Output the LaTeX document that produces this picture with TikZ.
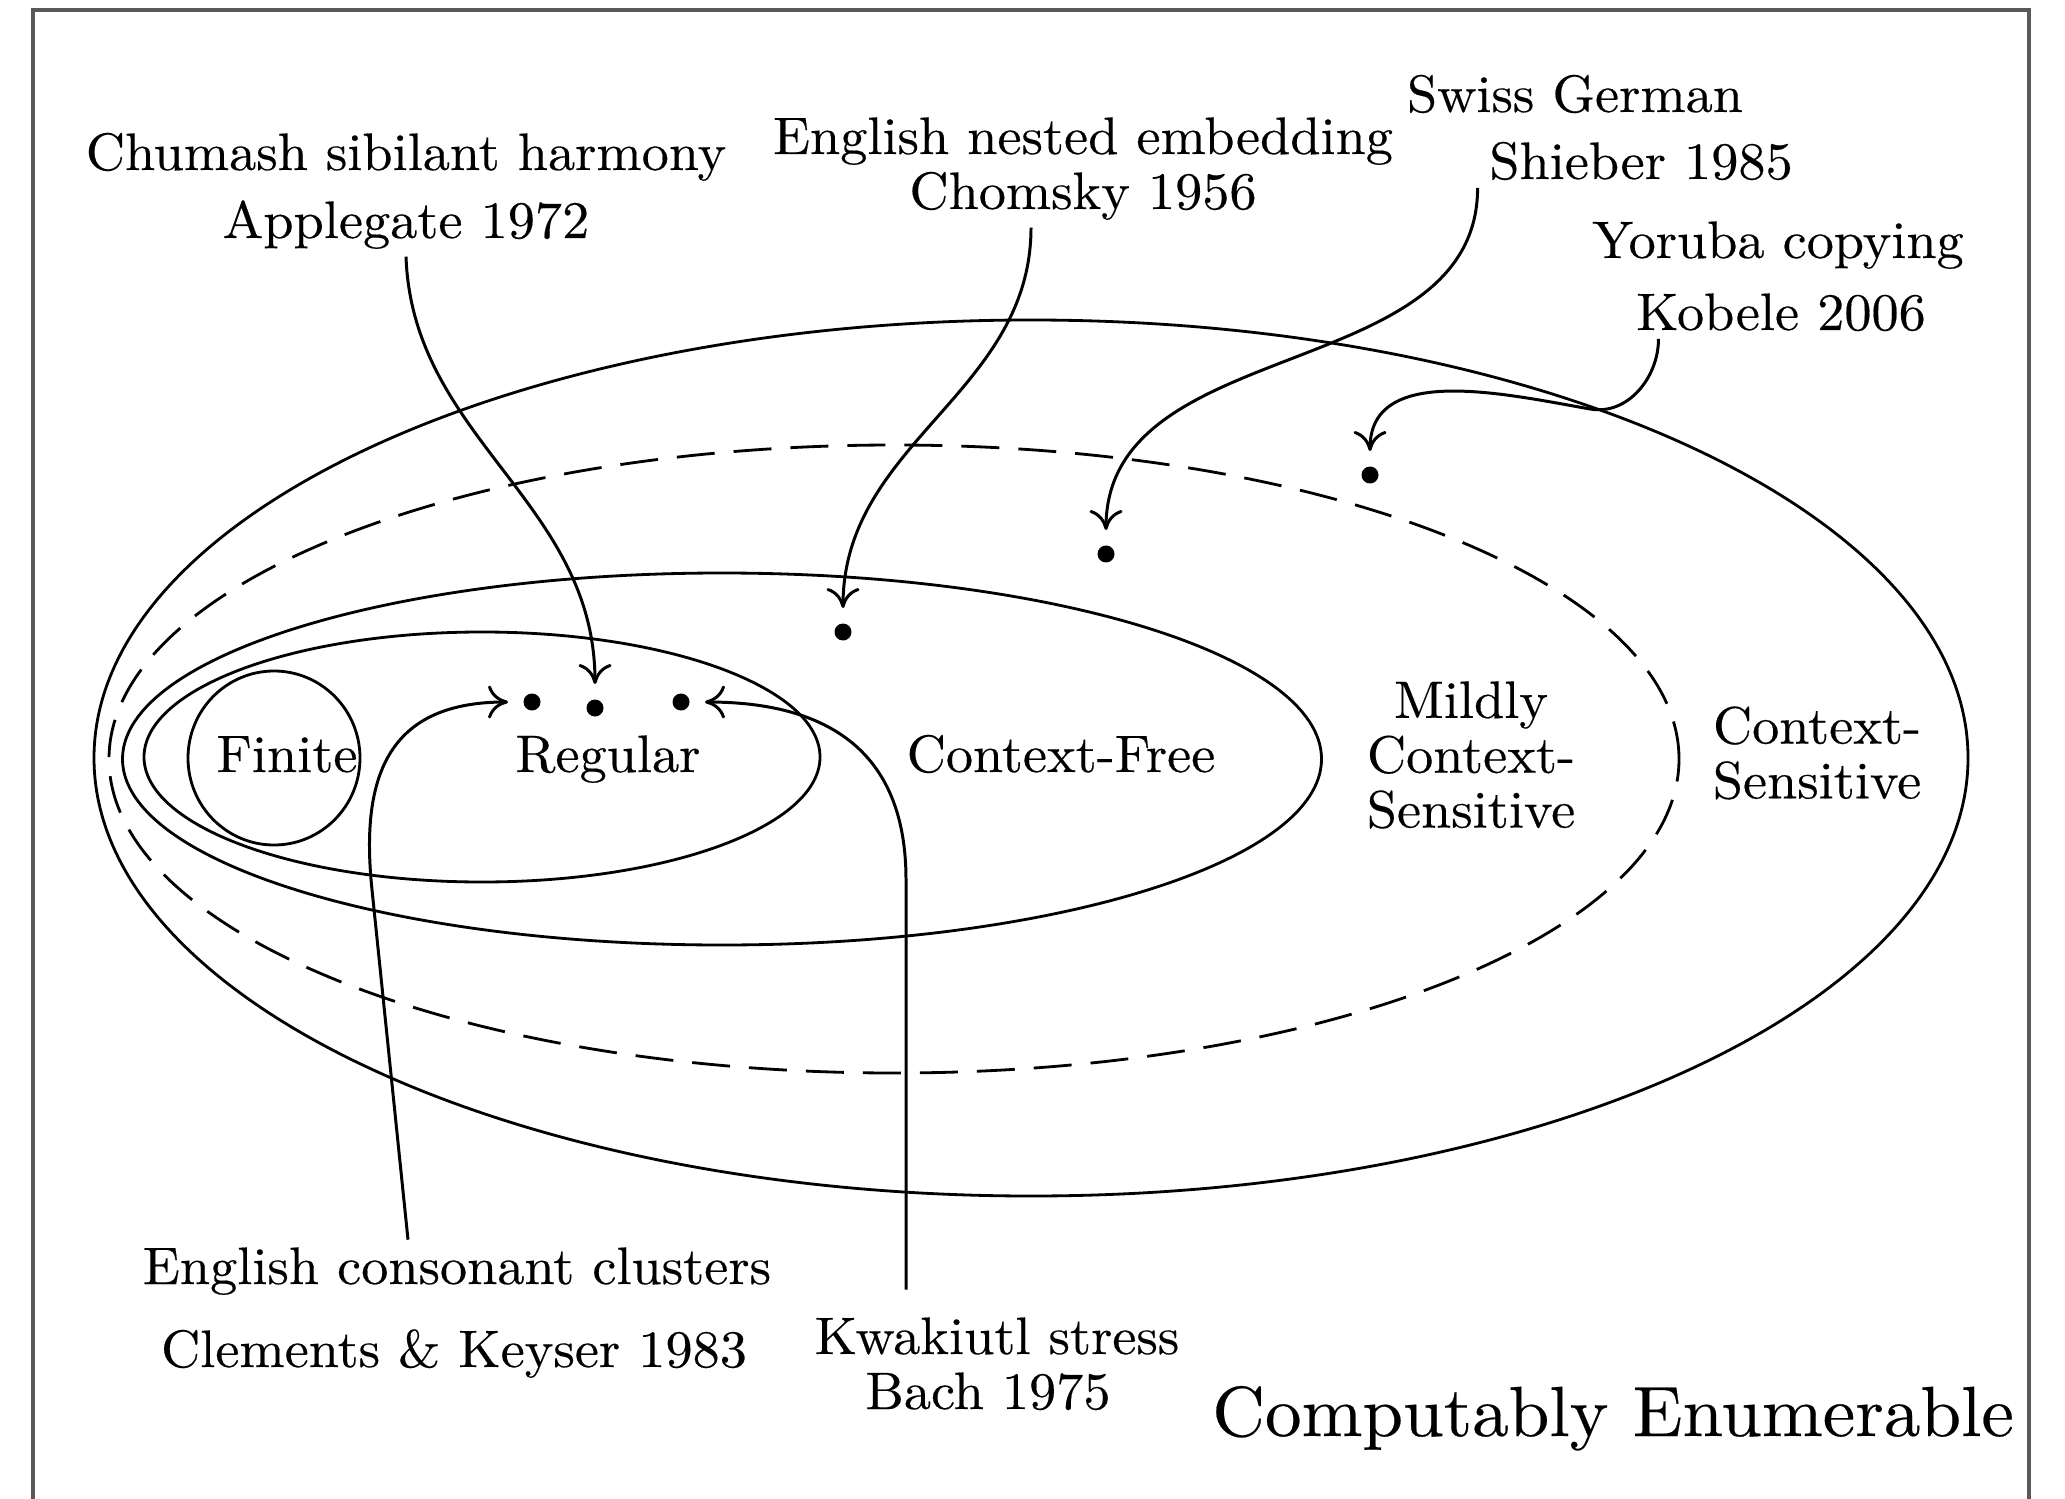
\documentclass[tikz,border=0pt]{standalone}
\usepackage{fontspec}
\setmainfont{lmroman10-regular.otf}[FakeStretch=1.03,FakeBold=0.3]
\usepackage{tikz}
\usetikzlibrary{arrows.meta,shapes.geometric,positioning,calc}

\begin{document}
\begin{tikzpicture}[
    >={Computer Modern Rightarrow[length=2mm,width=3.3mm]},
    font=\fontsize{15}{15.6}\selectfont,
    class/.style={
        draw,
        ellipse,
        line width=0.8pt,
        inner sep=0pt
    },
    dot/.style={
        circle,
        fill,
        inner sep=0pt,
        minimum size=1.7mm,
        outer sep=1.55mm
    },
    lbl/.style={
        anchor=base,
        inner sep=2pt
    },
    frame/.style={
        draw=black!65,
        line width=1.4pt
    },
    arr/.style={->, line width=0.85pt}
]
\useasboundingbox (0,0) rectangle (20.65,-14.99);
\draw[frame] (0.33,-14.99) |- (20.29,-0.10) -- (20.29,-14.99);

% language classes
\node[class, minimum width=18.74cm, minimum height=8.76cm] (ce) at (10.31,-7.58) {};
\node[class, dash pattern=on 3.8mm off 1.9mm, minimum width=15.70cm, minimum height=6.28cm] (mcs) at (8.94,-7.59) {};
\node[class, minimum width=11.99cm, minimum height=3.72cm] (cf) at (7.22,-7.59) {};
\node[class, minimum width=6.76cm, minimum height=2.50cm] (reg) at (4.82,-7.57) {};
\node[class, minimum width=1.72cm, minimum height=1.74cm] (fin) at (2.74,-7.58) {};

\node[lbl] (finlbl) at (2.87,-7.72) {Finite};
\node[lbl] (reglbl) at (6.08,-7.72) {Regular};
\node[lbl] (cflbl) at (10.61,-7.72) {Context-Free};
\node[align=center] (mcslbl) at (14.71,-7.55) {Mildly\\Context-\\Sensitive};
\node[align=center] (cslbl) at (18.17,-7.53) {Context-\\Sensitive};
\node[lbl, font=\fontsize{20.2}{24}\selectfont] (celbl) at (16.13,-14.36) {Computably Enumerable};

% example patterns
\node[dot] (d1) at (5.32,-7.02) {};
\node[dot] (d2) at (5.95,-7.08) {};
\node[dot] (d3) at (6.81,-7.02) {};
\node[dot] (dcf) at (8.43,-6.32) {};
\node[dot] (dmcs) at (11.06,-5.54) {};
\node[dot] (dcs) at (13.70,-4.75) {};

\node[lbl] (chumash) at (4.06,-1.70) {Chumash sibilant harmony};
\node[lbl] (applegate) at (4.06,-2.38) {Applegate 1972};
\node[lbl] (nested) at (10.83,-1.54) {English nested embedding};
\node[lbl] (chomsky) at (10.83,-2.09) {Chomsky 1956};
\node[lbl] (swiss) at (15.75,-1.12) {Swiss German};
\node[lbl] (shieber) at (16.41,-1.79) {Shieber 1985};
\node[lbl] (yoruba) at (17.78,-2.58) {Yoruba copying};
\node[lbl] (kobele) at (17.81,-3.30) {Kobele 2006};
\node[lbl] (clusters) at (4.57,-12.84) {English consonant clusters};
\node[lbl] (clements) at (4.54,-13.67) {Clements \& Keyser 1983};
\node[lbl] (kwakiutl) at (9.97,-13.54) {Kwakiutl stress};
\node[lbl] (bach) at (9.88,-14.09) {Bach 1975};

\draw[arr] (applegate.south) to[out=-88,in=90] (d2);
\draw[arr] ([xshift=-5.2mm]chomsky.south) to[out=-90,in=90] (dcf);
\draw[arr] ([xshift=-0.4mm]shieber.south west) to[out=-90,in=90] (dmcs);
\coordinate (ybend) at (15.90,-4.09);
\draw[arr] ([xshift=3mm]kobele.south west) to[out=-90,in=-10] (ybend)
    to[out=170,in=90] (dcs);
\draw[arr] ([xshift=-4.9mm]clusters.north) -- ++(-0.36,3.5)
    to[out=96,in=180,looseness=1.3] (d1);
\draw[arr] ([xshift=-9.1mm,yshift=2mm]kwakiutl.north) -- ++(0,4.1)
    to[out=90,in=0,looseness=1.2] (d3);
\end{tikzpicture}
\end{document}
